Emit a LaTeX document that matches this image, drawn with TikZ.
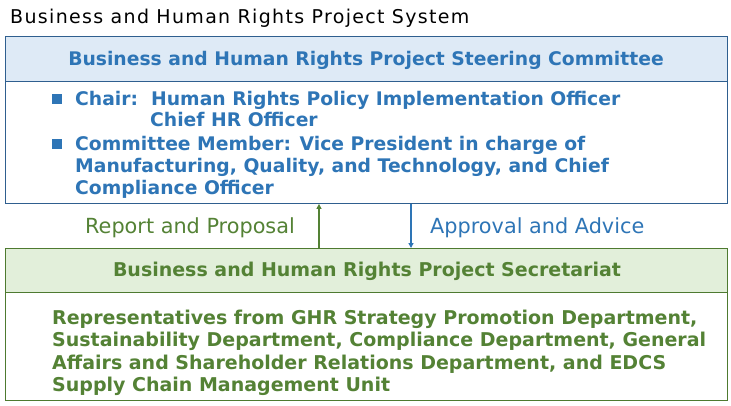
\documentclass[tikz,border=0pt]{standalone}
\usepackage{fontspec}
\setmainfont{DejaVu Sans}
\newfontfamily\titlefont{DejaVu Sans}[LetterSpace=7]
\usetikzlibrary{arrows.meta}
\definecolor{bluetxt}{HTML}{2E75B6}
\definecolor{blueline}{HTML}{2F5F8F}
\definecolor{bluefill}{HTML}{DEEAF6}
\definecolor{greentxt}{HTML}{548235}
\definecolor{greenline}{HTML}{4E7A30}
\definecolor{greenfill}{HTML}{E2EFDA}
\tikzset{
  box/.style={draw, line width=0.9pt, minimum width=722pt, inner sep=0pt, anchor=north west},
  bluebox/.style={box, draw=blueline},
  greenbox/.style={box, draw=greenline},
  bluetext/.style={text=bluetxt, font=\fontsize{18.75}{22}\selectfont\bfseries, inner sep=0pt},
  greentext/.style={text=greentxt, font=\fontsize{19}{22.5}\selectfont\bfseries, inner sep=0pt},
  lbl/.style={font=\fontsize{20.8}{22}\selectfont, inner sep=0pt},
  bullet/.style={fill=bluetxt, minimum size=10pt, inner sep=0pt},
  arr/.style={line width=1.2pt, -{Triangle[length=5pt,width=5pt]}}
}
\begin{document}
\begin{tikzpicture}[x=1pt,y=-1pt]
\useasboundingbox (0,0) rectangle (731,405);
\node[anchor=base west, font=\titlefont\fontsize{19}{20}\selectfont, inner sep=0pt] (title) at (10,23) {Business and Human Rights Project System};
% steering committee
\node[bluebox, fill=bluefill, minimum height=45pt] (cmtHead) at (5,36) {};
\node[bluebox, fill=white, minimum height=122pt] (cmtBody) at (5,81) {};
\node[bluetext] (cmtTitle) at (366,60) {Business and Human Rights Project Steering Committee};
\node[bullet] (b1) at (56.5,99) {};
\node[bluetext, anchor=base west] (chair) at (75,105) {Chair:\ \ Human Rights Policy Implementation Officer};
\node[bluetext, anchor=base west] (chief) at (150,126) {Chief HR Officer};
\node[bullet] (b2) at (56.5,144) {};
\node[bluetext, anchor=north west, align=left] (member) at (75,136) {Committee Member: Vice President in charge of\\Manufacturing, Quality, and Technology, and Chief\\Compliance Officer};
% secretariat
\node[greenbox, fill=greenfill, minimum height=44pt] (secHead) at (5,248) {};
\node[greenbox, fill=white, minimum height=108pt] (secBody) at (5,292) {};
\node[greentext] (secTitle) at (367,271) {Business and Human Rights Project Secretariat};
\node[greentext, anchor=north west, align=left] (secText) at (52,309.5) {Representatives from GHR Strategy Promotion Department,\\Sustainability Department, Compliance Department, General\\Affairs and Shareholder Relations Department, and EDCS\\Supply Chain Management Unit};
% arrows
\coordinate (upx) at (319,0);
\coordinate (downx) at (411,0);
\draw[arr, draw=greentxt, fill=greentxt] (secHead.north -| upx) -- (cmtBody.south -| upx);
\draw[arr, draw=bluetxt, fill=bluetxt] (cmtBody.south -| downx) -- (secHead.north -| downx);
\node[lbl, text=greentxt, anchor=base east] (rep) at (295,233) {Report and Proposal};
\node[lbl, text=bluetxt, anchor=base west] (app) at (430,233) {Approval and Advice};
\end{tikzpicture}
\end{document}
